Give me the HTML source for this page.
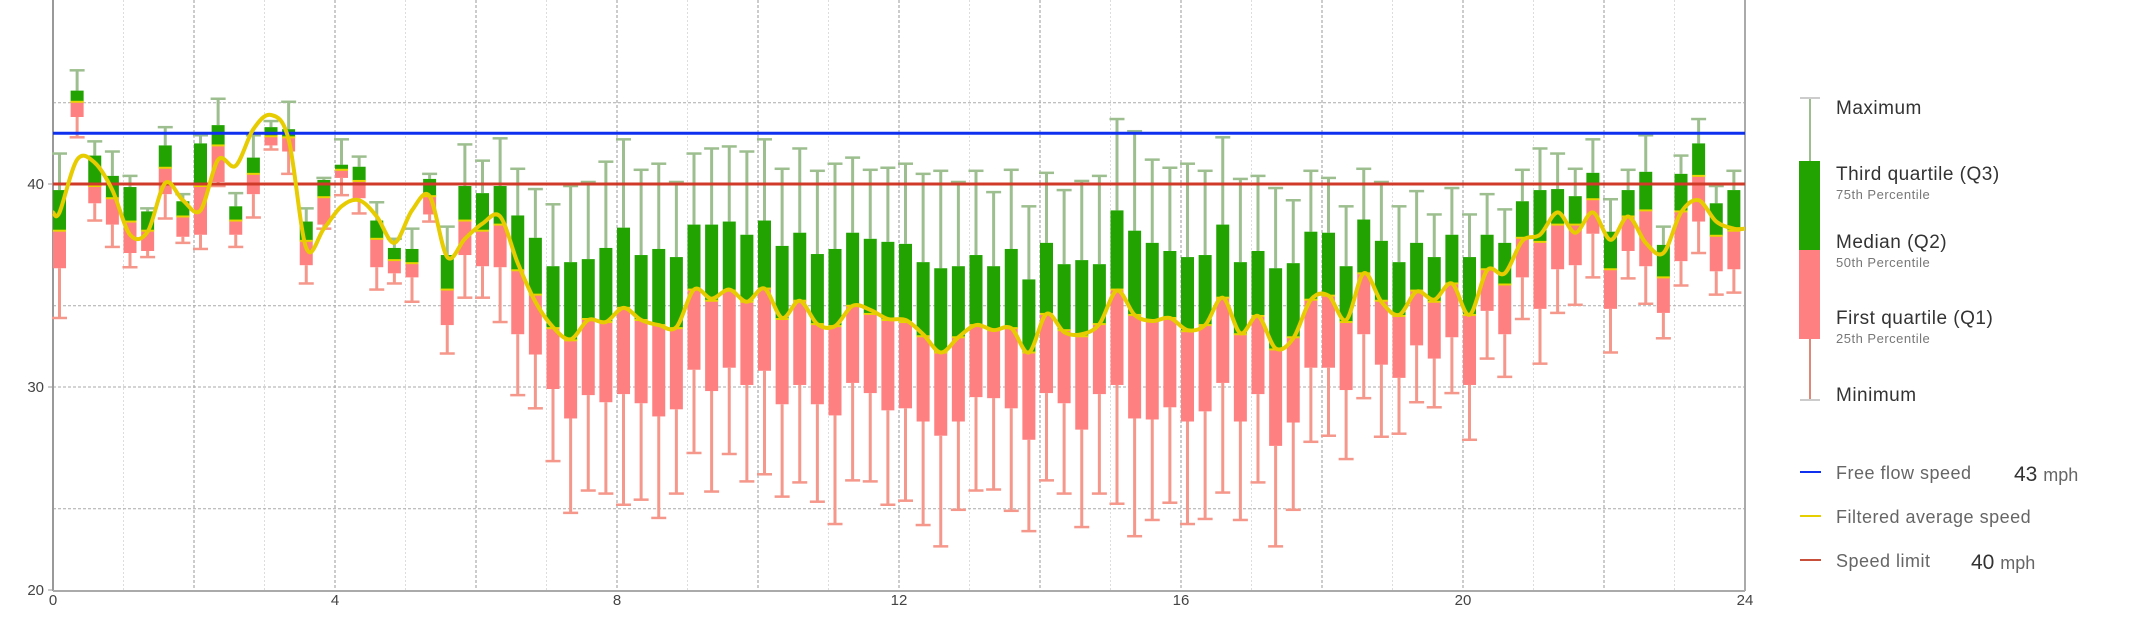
<!DOCTYPE html>
<html><head><meta charset="utf-8">
<style>
html,body{margin:0;padding:0;background:#fff;}
body{width:2140px;height:626px;overflow:hidden;font-family:"Liberation Sans",sans-serif;}
svg text{font-family:"Liberation Sans",sans-serif;}
</style></head>
<body>
<svg id="chart" width="2140" height="626" viewBox="0 0 2140 626" xmlns="http://www.w3.org/2000/svg">
  <g id="grid"></g>
  <g id="axes"></g>
  <g id="boxes"></g>
  <g id="refs"></g>
  <g id="avg"></g>
  <g id="legend">
    <g>
      <line x1="1810" y1="98" x2="1810" y2="161" stroke="#9dbf8f" stroke-width="2"/>
      <line x1="1800" y1="98" x2="1820" y2="98" stroke="#ccc" stroke-width="2"/>
      <rect x="1799" y="161" width="21" height="89" fill="#22a302"/>
      <rect x="1799" y="250" width="21" height="89" fill="#ff8080"/>
      <line x1="1810" y1="339" x2="1810" y2="400" stroke="#e08878" stroke-width="2"/>
      <line x1="1800" y1="400" x2="1820" y2="400" stroke="#ccc" stroke-width="2"/>
    </g>
    <text x="1836" y="114" font-size="19" fill="#333" letter-spacing="0.5">Maximum</text>
    <text x="1836" y="180" font-size="19" fill="#333" letter-spacing="0.5">Third quartile (Q3)</text>
    <text x="1836" y="199" font-size="13" fill="#777" letter-spacing="0.5">75th Percentile</text>
    <text x="1836" y="248" font-size="19" fill="#333" letter-spacing="0.5">Median (Q2)</text>
    <text x="1836" y="267" font-size="13" fill="#777" letter-spacing="0.5">50th Percentile</text>
    <text x="1836" y="324" font-size="19" fill="#333" letter-spacing="0.5">First quartile (Q1)</text>
    <text x="1836" y="343" font-size="13" fill="#777" letter-spacing="0.5">25th Percentile</text>
    <text x="1836" y="401" font-size="19" fill="#333" letter-spacing="0.5">Minimum</text>
    <g>
      <line x1="1800" y1="472" x2="1821" y2="472" stroke="#1030f0" stroke-width="2"/>
      <text x="1836" y="479" font-size="18" fill="#666" letter-spacing="0.5">Free flow speed</text>
      <text x="2014" y="481" font-size="21" fill="#333">43 <tspan font-size="18" fill="#666">mph</tspan></text>
    </g>
    <g>
      <line x1="1800" y1="516" x2="1821" y2="516" stroke="#e6cf00" stroke-width="2"/>
      <text x="1836" y="523" font-size="18" fill="#666" letter-spacing="0.5">Filtered average speed</text>
    </g>
    <g>
      <line x1="1800" y1="560" x2="1821" y2="560" stroke="#c8503a" stroke-width="2"/>
      <text x="1836" y="567" font-size="18" fill="#666" letter-spacing="0.5">Speed limit</text>
      <text x="1971" y="569" font-size="21" fill="#333">40 <tspan font-size="18" fill="#666">mph</tspan></text>
    </g>
  </g>
</svg>
<script>
const binStarts = Array.from({length:96}, (_, i) => i * 0.25);
const maxVals = [41.5,45.6,42.1,41.6,40.4,38.8,42.8,39.5,42.4,44.2,39.55,42.4,43.1,44.05,38.8,40.3,42.2,41.35,39.1,37.3,37.8,40.5,37.9,41.95,41.15,42.25,40.75,39.75,39.0,39.9,40.1,41.1,42.2,40.7,41.0,40.1,41.5,41.75,41.85,41.6,42.2,40.75,41.75,40.65,41.0,41.3,40.7,40.8,41.0,40.5,40.65,40.1,40.65,39.6,40.7,38.9,40.55,39.7,40.15,40.4,43.2,42.6,41.2,40.8,41.0,40.65,42.3,40.25,40.4,39.8,39.2,40.65,40.3,38.9,40.75,40.1,38.9,39.65,38.5,39.8,38.5,39.5,38.75,40.7,41.75,41.5,40.75,42.2,39.25,40.7,42.4,37.9,41.4,43.2,39.9,40.65];
const q3Vals = [39.7,44.6,41.4,40.4,39.85,38.65,41.9,39.15,42.0,42.9,38.9,41.3,42.8,42.7,38.15,40.2,40.95,40.85,38.2,36.85,36.8,40.25,36.5,39.9,39.55,39.9,38.45,37.35,35.95,36.15,36.3,36.85,37.85,36.5,36.8,36.4,38.0,38.0,38.15,37.5,38.2,36.95,37.6,36.55,36.8,37.6,37.3,37.15,37.05,36.15,35.85,35.95,36.5,35.95,36.8,35.3,37.1,36.05,36.25,36.05,38.7,37.7,37.1,36.7,36.4,36.5,38.0,36.15,36.7,35.85,36.1,37.65,37.6,35.95,38.25,37.2,36.15,37.1,36.4,37.5,36.4,37.5,37.1,39.15,39.7,39.75,39.4,40.55,37.65,39.7,40.6,37.0,40.5,42.0,39.05,39.7];
const medianVals = [37.7,44.05,39.9,39.3,38.15,37.7,40.8,38.4,39.9,41.9,38.2,40.5,42.35,42.3,37.2,39.35,40.7,40.15,37.3,36.25,36.1,39.4,34.8,38.2,37.7,38.0,35.75,34.55,32.9,32.3,33.35,33.2,33.9,33.3,33.05,32.9,34.8,34.25,34.75,34.2,34.85,33.35,34.25,33.1,33.0,34.0,33.6,33.3,33.2,32.5,31.7,32.45,33.05,32.8,32.9,31.7,33.6,32.8,32.5,33.1,34.8,33.55,33.25,33.4,32.75,33.05,34.4,32.6,33.5,31.85,32.45,34.3,34.5,33.2,35.6,34.25,33.5,34.75,34.2,35.1,33.55,35.8,35.05,37.35,37.15,38.0,38.0,39.25,35.8,38.4,38.7,35.4,38.65,40.4,37.45,37.7];
const q1Vals = [35.85,43.3,39.05,38.0,36.6,36.7,39.5,37.4,37.5,40.1,37.5,39.5,41.9,41.6,36.0,38.0,40.3,39.3,35.9,35.6,35.4,38.5,33.05,36.5,35.95,35.9,32.6,31.6,29.9,28.45,29.6,29.25,29.65,29.2,28.55,28.9,30.85,29.8,30.95,30.1,30.8,29.15,30.1,29.15,28.6,30.2,29.7,28.85,28.95,28.3,27.6,28.3,29.5,29.45,28.95,27.4,29.7,29.2,27.9,29.65,30.1,28.45,28.4,29.0,28.3,28.8,30.2,28.3,29.65,27.1,28.25,30.95,30.95,29.85,32.6,31.1,30.45,32.05,31.4,32.45,30.1,33.75,32.6,35.4,33.85,35.8,36.0,37.55,33.85,36.7,35.95,33.65,36.2,38.15,35.7,35.8];
const minVals = [33.4,42.3,38.2,36.9,35.9,36.4,38.3,37.1,36.8,39.9,36.9,38.35,41.7,40.5,35.1,37.8,39.45,38.55,34.8,35.1,34.2,38.15,31.65,34.4,34.4,33.2,29.6,28.95,26.35,23.8,24.9,24.75,24.2,24.45,23.55,24.75,26.75,24.85,26.7,25.35,25.7,24.6,25.3,24.35,23.25,25.4,25.35,24.2,24.4,23.2,22.15,23.95,24.9,24.95,23.9,22.9,25.4,24.75,23.1,24.75,24.25,22.65,23.45,24.3,23.25,23.5,24.8,23.45,25.3,22.15,23.95,27.3,27.6,26.45,29.45,27.55,27.7,29.25,29.0,29.7,27.4,31.4,30.5,33.35,31.15,33.65,34.05,35.4,31.7,35.35,34.1,32.4,35.0,36.6,34.55,34.65];
const avgVals = [38.6,41.2,41.05,39.7,37.5,37.65,40.05,39.2,38.7,41.2,40.9,42.7,43.4,42.2,36.85,37.8,38.9,39.2,38.4,37.1,38.7,39.4,36.4,37.3,38.05,38.4,36.1,34.2,32.95,32.35,33.3,33.2,33.9,33.3,33.05,32.95,34.8,34.35,34.8,34.2,34.85,33.4,34.25,33.1,33.0,34.0,33.8,33.35,33.3,32.6,31.7,32.45,33.05,32.8,32.9,31.7,33.6,32.7,32.6,33.1,34.75,33.55,33.25,33.4,32.8,33.05,34.4,32.65,33.5,31.9,32.4,34.3,34.5,33.3,35.6,34.2,33.55,34.7,34.3,35.1,33.55,35.75,35.6,37.2,37.5,38.6,37.6,38.6,37.25,38.4,37.1,36.6,38.6,39.2,38.15,37.8];
const xTicks = [0,4,8,12,16,20,24];
const yTicks = [20,30,40];
const freeFlowSpeed = 42.5;
const speedLimit = 40;

const NS = "http://www.w3.org/2000/svg";
const X0 = 53, PXH = 70.5, BOXOFF = 6.5;
const xs = h => X0 + h * PXH;
const ys = v => 590 - (v - 20) * 20.3;
function mk(tag, attrs, parent){ const e = document.createElementNS(NS, tag); for (const k in attrs) e.setAttribute(k, attrs[k]); parent.appendChild(e); return e; }

const grid = document.getElementById('grid');
for (let h = 1; h < 24; h++) {
  const major = h % 2 === 0;
  const l = mk('line', {x1: xs(h), x2: xs(h), y1: 0, y2: 590, stroke: major ? '#999' : '#ddd', 'stroke-width': 1, 'stroke-dasharray': major ? '3,2' : '2,2'}, grid);
  
  
}
[24, 30, 34, 40, 44].forEach(v => {
  const l = mk('line', {x1: X0, x2: xs(24), y1: ys(v), y2: ys(v), stroke: '#aaa', 'stroke-width': 1, 'stroke-dasharray': '3,2'}, grid);
  
  
});

const axes = document.getElementById('axes');
const ya = mk('line', {x1: X0, x2: X0, y1: 0, y2: 591, stroke: '#999', 'stroke-width': 2}, axes);


const rb = mk('line', {x1: xs(24), x2: xs(24), y1: 0, y2: 591, stroke: '#aaa', 'stroke-width': 2}, axes);


const xa = mk('line', {x1: X0, x2: xs(24), y1: 591, y2: 591, stroke: '#aaa', 'stroke-width': 2}, axes);


xTicks.forEach(t => {
  const tx = mk('text', {x: xs(t), y: 605, 'font-size': 15, fill: '#444', 'text-anchor': 'middle'}, axes);
  tx.textContent = t;
  
  
});
yTicks.forEach(t => {
  const tx = mk('text', {x: 44, y: ys(t) + 5, 'font-size': 15, fill: '#444', 'text-anchor': 'end'}, axes);
  tx.textContent = t;
  
  
  const tk = mk('line', {x1: X0 - 5, x2: X0, y1: ys(t), y2: ys(t), stroke: '#999', 'stroke-width': 1}, axes);
  
  
});

const boxes = document.getElementById('boxes');
binStarts.forEach((t, i) => {
  const cx = xs(t) + BOXOFF, w = 13;
  const g = mk('g', {}, boxes);
  
  
  mk('line', {x1: cx, x2: cx, y1: ys(maxVals[i]), y2: ys(q3Vals[i]), stroke: '#9dbf8f', 'stroke-width': 3}, g);
  mk('line', {x1: cx - 7.5, x2: cx + 7.5, y1: ys(maxVals[i]), y2: ys(maxVals[i]), stroke: '#9dbf8f', 'stroke-width': 2.5}, g);
  mk('line', {x1: cx, x2: cx, y1: ys(q1Vals[i]), y2: ys(minVals[i]), stroke: '#f5978a', 'stroke-width': 3}, g);
  mk('line', {x1: cx - 7.5, x2: cx + 7.5, y1: ys(minVals[i]), y2: ys(minVals[i]), stroke: '#f5978a', 'stroke-width': 2.5}, g);
  mk('rect', {x: cx - w/2, y: ys(q3Vals[i]), width: w, height: ys(medianVals[i]) - ys(q3Vals[i]), fill: '#22a302'}, g);
  mk('rect', {x: cx - w/2, y: ys(medianVals[i]), width: w, height: ys(q1Vals[i]) - ys(medianVals[i]), fill: '#ff8080'}, g);
  mk('line', {x1: cx - w/2, x2: cx + w/2, y1: ys(medianVals[i]), y2: ys(medianVals[i]), stroke: '#e8d400', 'stroke-width': 2}, g);
});

const refs = document.getElementById('refs');
const ff = mk('line', {x1: X0, x2: xs(24), y1: ys(freeFlowSpeed), y2: ys(freeFlowSpeed), stroke: '#1030f0', 'stroke-width': 3}, refs);


const sl = mk('line', {x1: X0, x2: xs(24), y1: ys(speedLimit), y2: ys(speedLimit), stroke: '#d03a28', 'stroke-width': 3}, refs);



const pts = [[X0, ys(avgVals[0])]];
binStarts.forEach((t, i) => pts.push([xs(t) + BOXOFF, ys(avgVals[i])]));
pts.push([xs(24), ys(avgVals[avgVals.length - 1])]);
let d = 'M' + pts[0][0] + ',' + pts[0][1];
for (let i = 0; i < pts.length - 1; i++) {
  const p0 = pts[Math.max(0, i - 1)], p1 = pts[i], p2 = pts[i + 1], p3 = pts[Math.min(pts.length - 1, i + 2)];
  const c1x = p1[0] + (p2[0] - p0[0]) / 6, c1y = p1[1] + (p2[1] - p0[1]) / 6;
  const c2x = p2[0] - (p3[0] - p1[0]) / 6, c2y = p2[1] - (p3[1] - p1[1]) / 6;
  d += ' C' + c1x + ',' + c1y + ' ' + c2x + ',' + c2y + ' ' + p2[0] + ',' + p2[1];
}
const avgPath = mk('path', {d: d, fill: 'none', stroke: '#e6cc00', 'stroke-width': 4, 'stroke-linejoin': 'round'}, document.getElementById('avg'));


</script>
</body></html>
